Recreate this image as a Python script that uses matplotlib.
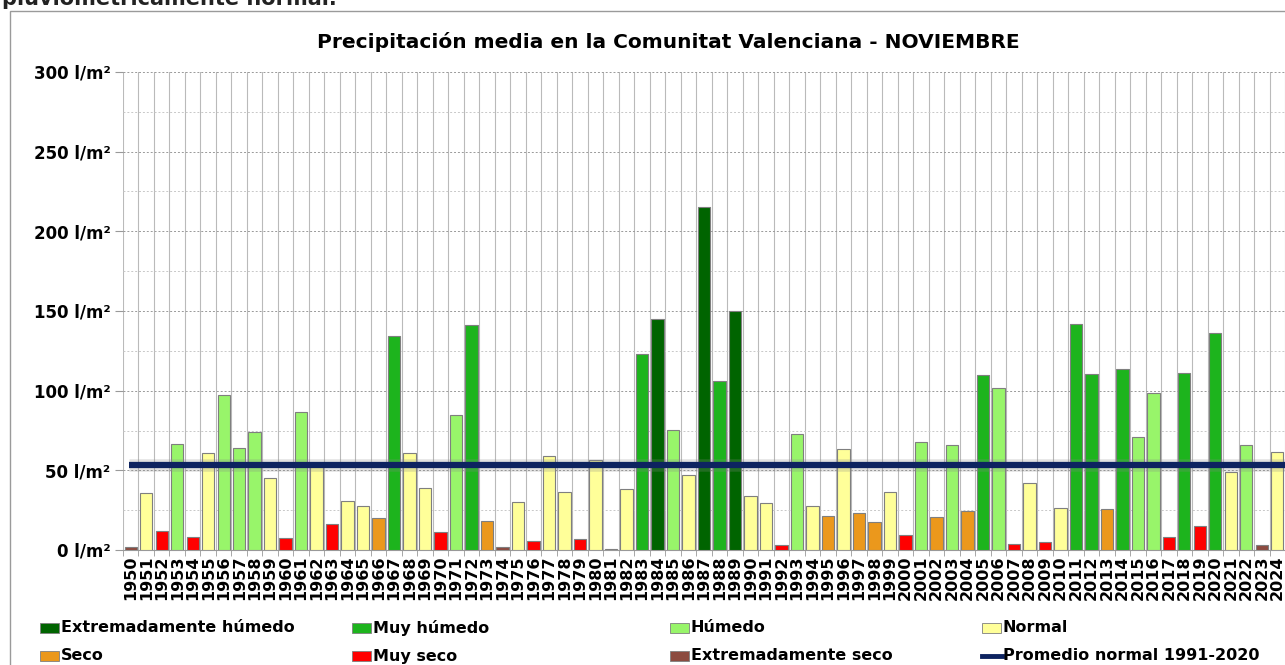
import matplotlib.pyplot as plt
from matplotlib.patches import Rectangle
from matplotlib.lines import Line2D

# datos: precipitación media de noviembre (l/m²) y categoría de cada año
years = list(range(1950, 2025))
values = [2, 35.5, 12, 66.4, 8.4, 60.6, 97.5, 64.3, 74.1, 45.5,
          7.3, 86.7, 53, 16.3, 30.5, 27.4, 19.8, 134.3, 61, 38.8,
          11.3, 84.6, 141.4, 18, 1.7, 29.9, 5.9, 59.3, 36.1, 6.9,
          56.6, 0.6, 38.4, 123.2, 144.7, 75.6, 46.8, 215, 106.3, 149.7,
          33.8, 29.2, 3.1, 72.5, 27.8, 21.3, 63.5, 23.4, 17.3, 36.1,
          9.2, 67.9, 20.5, 65.6, 24.6, 110, 101.7, 3.8, 42, 5.2,
          26.3, 142, 110.7, 25.9, 113.8, 71.2, 98.6, 8.4, 111.3, 15.2,
          136, 49.1, 66.2, 3.1, 61.8]
# EH extremadamente húmedo, MH muy húmedo, H húmedo, N normal,
# S seco, MS muy seco, ES extremadamente seco
cats = ['ES', 'N', 'MS', 'H', 'MS', 'N', 'H', 'H', 'H', 'N',
        'MS', 'H', 'N', 'MS', 'N', 'N', 'S', 'MH', 'N', 'N',
        'MS', 'H', 'MH', 'S', 'ES', 'N', 'MS', 'N', 'N', 'MS',
        'N', 'ES', 'N', 'MH', 'EH', 'H', 'N', 'EH', 'MH', 'EH',
        'N', 'N', 'MS', 'H', 'N', 'S', 'N', 'S', 'S', 'N',
        'MS', 'H', 'S', 'H', 'S', 'MH', 'H', 'MS', 'N', 'MS',
        'N', 'MH', 'MH', 'S', 'MH', 'H', 'H', 'MS', 'MH', 'MS',
        'MH', 'N', 'H', 'ES', 'N']
normal_1991_2020 = 53.5

cat_colors = {'EH': '#006400', 'MH': '#1db41d', 'H': '#98f56a', 'N': '#ffff99',
              'S': '#eb981c', 'MS': '#ff0000', 'ES': '#8c4b40'}
cat_labels = {'EH': 'Extremadamente húmedo', 'MH': 'Muy húmedo', 'H': 'Húmedo',
              'N': 'Normal', 'S': 'Seco', 'MS': 'Muy seco',
              'ES': 'Extremadamente seco'}
legend_order = ['EH', 'MH', 'H', 'N', 'S', 'MS', 'ES']

W, H = 1285, 665
fig = plt.figure(figsize=(W / 100, H / 100), dpi=100)
ax = fig.add_axes([123 / W, 1 - 550 / H, 1 - 123 / W, (550 - 72) / H])

ax.bar(years, values, width=0.8, color=[cat_colors[c] for c in cats],
       edgecolor='#7f7f7f', linewidth=0.8, zorder=3)

# línea del promedio normal con una sombra suave
ax.hlines(normal_1991_2020, years[0] - 0.1, years[-1] + 0.6, color='#888888',
          lw=9, alpha=0.25, zorder=4)
ax.hlines(normal_1991_2020, years[0] - 0.1, years[-1] + 0.6, color='#0d2360',
          lw=4.5, zorder=5)

ax.set_xlim(years[0] - 0.5, years[-1])
ax.set_ylim(0, 300)

ax.set_xticks(years)
ax.set_xticklabels([str(y) for y in years], rotation=90, fontsize=11.5,
                   fontweight='bold')
ax.set_xticks([y - 0.5 for y in years] + [years[-1] + 0.5], minor=True)
ax.tick_params(axis='x', which='major', length=0, pad=4)
ax.tick_params(axis='x', which='minor', length=4, color='#999999')
ax.xaxis.grid(True, which='minor', color='#bababa', lw=0.8, zorder=1)

yt = list(range(0, 301, 50))
ax.set_yticks(yt)
ax.set_yticklabels([f'{v} l/m²' for v in yt], fontsize=12, fontweight='bold')
ax.set_yticks(list(range(25, 300, 50)), minor=True)
ax.tick_params(axis='y', which='major', length=6, color='#999999', pad=3)
ax.tick_params(axis='y', which='minor', length=0)
ax.yaxis.grid(True, which='major', color='#999999', ls=(0, (2, 2)), lw=0.7,
              zorder=1)
ax.yaxis.grid(True, which='minor', color='#c8c8c8', ls=(0, (2, 2)), lw=0.7,
              zorder=1)

for s in ['top', 'right', 'left']:
    ax.spines[s].set_visible(False)
ax.spines['bottom'].set_color('#999999')

# marco del gráfico y texto recortado de la página
fig.patches.append(Rectangle((10 / W, -0.05), 1.2, 1 - 11 / H + 0.05,
                             transform=fig.transFigure, fill=False,
                             edgecolor='#9a9a9a', lw=1))
fig.text(2 / W, 1 - 5 / H, 'pluviométricamente normal.', fontsize=15,
         fontweight='bold', color='#222222', va='baseline')

fig.text(668 / W, 1 - 42 / H,
         'Precipitación media en la Comunitat Valenciana - NOVIEMBRE',
         ha='center', va='center', fontsize=14.5, fontweight='bold')

# leyenda manual en dos filas
col_x = [40, 352, 670, 982]
row_y = [628, 656]
for i, c in enumerate(legend_order + ['avg']):
    x0 = col_x[i % 4]
    y0 = row_y[i // 4]
    if c == 'avg':
        fig.lines.append(Line2D([x0 / W, (x0 + 20) / W], [1 - y0 / H] * 2,
                                transform=fig.transFigure, color='#0d2360',
                                lw=3.5))
        label = 'Promedio normal 1991-2020'
    else:
        fig.patches.append(Rectangle((x0 / W, 1 - (y0 + 5) / H), 19 / W, 10 / H,
                                     transform=fig.transFigure,
                                     facecolor=cat_colors[c],
                                     edgecolor='#7f7f7f', lw=0.6))
        label = cat_labels[c]
    fig.text((x0 + 21) / W, 1 - y0 / H, label, fontsize=11.5,
             fontweight='bold', va='center')

fig.savefig('out.png', dpi=100)
